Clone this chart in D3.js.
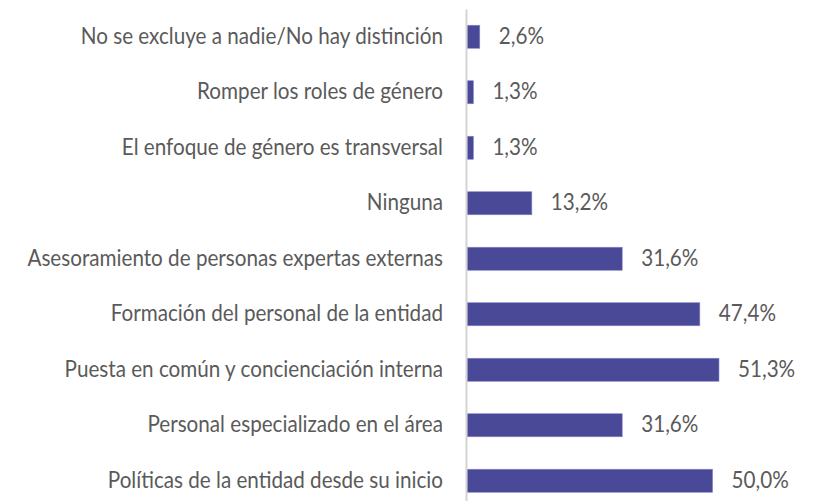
<!DOCTYPE html>
<html>
<head>
<meta charset="utf-8">
<script src="https://cdn.jsdelivr.net/npm/d3@7"></script>
<style>
  html, body { margin: 0; padding: 0; background: #ffffff; }
  svg { display: block; }
  text { font-family: "Lato", "Open Sans", sans-serif; fill: #5a5a5a; }
</style>
</head>
<body>
<svg id="chart" width="818" height="501"></svg>
<script>
// Categories from top to bottom
const categories = [
  "No se excluye a nadie/No hay distinción",
  "Romper los roles de género",
  "El enfoque de género es transversal",
  "Ninguna",
  "Asesoramiento de personas expertas externas",
  "Formación del personal de la entidad",
  "Puesta en común y concienciación interna",
  "Personal especializado en el área",
  "Políticas de la entidad desde su inicio"
];
// Percentages (same order)
const values = [2.6, 1.3, 1.3, 13.2, 31.6, 47.4, 51.3, 31.6, 50.0];
// Value labels as shown next to each bar
const valueLabels = values.map(v => v.toFixed(1).replace(".", ",") + "%");

const plotLeft = 467, plotTop = 9, plotBottom = 508.5;
const fontSize = 24;

const svg = d3.select("#chart");

const y = d3.scaleBand()
  .domain(categories)
  .range([plotTop, plotBottom])
  .paddingInner(0.585)
  .paddingOuter(0.2925);

const x = d3.scaleLinear()
  .domain([0, 60])
  .range([plotLeft, plotLeft + 4.912 * 60]);

const data = categories.map((c, i) => ({ cat: c, value: values[i], label: valueLabels[i] }));

// Bars
svg.append("g")
  .selectAll("rect")
  .data(data)
  .join("rect")
  .attr("x", x(0))
  .attr("y", d => y(d.cat))
  .attr("width", d => x(d.value) - x(0))
  .attr("height", y.bandwidth())
  .attr("fill", "#494997")
  .attr("stroke", "#8585c8")
  .attr("stroke-width", 0.6);

// Vertical category axis line
const yAxis = svg.append("g")
  .attr("transform", `translate(${plotLeft - 1},0)`)
  .call(d3.axisLeft(y).tickSize(0).tickFormat(""));
yAxis.select(".domain").attr("stroke", "#d4d4d4").attr("stroke-width", 2);

// Category labels (right-aligned against the axis)
const catGroups = svg.append("g")
  .selectAll("g")
  .data(data)
  .join("g")
  .attr("class", "cat");
const catText = catGroups.append("text")
  .attr("text-anchor", "end")
  .attr("font-size", fontSize)
  .text(d => d.cat);

// Value labels to the right of the bars
const valGroups = svg.append("g")
  .selectAll("g")
  .data(data)
  .join("g")
  .attr("class", "val");
valGroups.append("text")
  .attr("text-anchor", "start")
  .attr("font-size", fontSize)
  .text(d => d.label);

// Condense the text horizontally so the longest label spans its column
const longest = catText.filter(d => d.cat === categories[4]).node().getComputedTextLength();
const sx = 416 / longest;
const baseOff = 7;

catGroups.attr("transform", d =>
  `translate(443,${y(d.cat) + y.bandwidth() / 2 + baseOff}) scale(${sx},1)`);
valGroups.attr("transform", d =>
  `translate(${x(d.value) + 19},${y(d.cat) + y.bandwidth() / 2 + baseOff}) scale(${sx},1)`);
</script>
</body>
</html>
